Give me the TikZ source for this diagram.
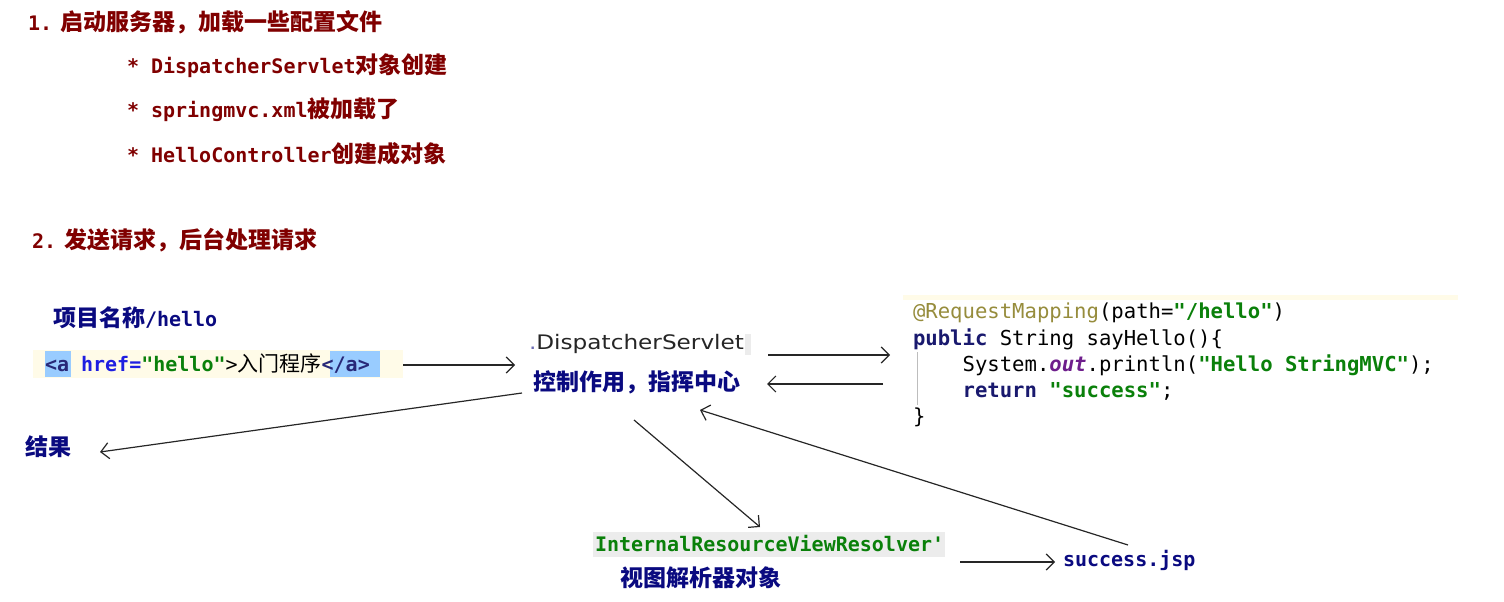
\documentclass[tikz,border=0pt]{standalone}
\usepackage{fontspec}
\usepackage{graphicx}
\usetikzlibrary{arrows.meta}
\newfontfamily\cjkfont{Noto Sans CJK SC}
\newfontfamily\pixfont{DejaVu Sans Mono}
\newfontfamily\uifont{DejaVu Sans}
\definecolor{hred}{RGB}{128,0,0}
\definecolor{hnavy}{RGB}{10,10,128}
\definecolor{tagc}{RGB}{40,40,120}
\definecolor{attrc}{RGB}{30,30,225}
\definecolor{strc}{RGB}{10,128,10}
\definecolor{hlblue}{RGB}{153,204,255}
\definecolor{hlyel}{RGB}{255,251,232}
\definecolor{annc}{RGB}{150,140,60}
\definecolor{kwc}{RGB}{25,25,110}
\definecolor{outc}{RGB}{110,30,140}
\definecolor{gbg}{RGB}{236,236,236}
\newcommand\Cj[1]{{\fontsize{23}{27}\selectfont\cjkfont\bfseries #1}}
\newcommand\Px[1]{{\fontsize{20}{27}\selectfont\pixfont\bfseries #1}}
\newcommand\Cd[1]{{\fontsize{20.6}{26}\selectfont\pixfont #1}}
\begin{document}
\begin{tikzpicture}[x=1pt,y=-1pt,
  lbl/.style={anchor=west,inner sep=0pt,outer sep=0pt},
  arr/.style={draw=black!85,line width=1.2pt,-{Straight Barb[length=8pt,width=16pt,line width=1.2pt]}}]
\useasboundingbox (0,0) rectangle (1504,602);
% headings
\node[lbl,text=hred] (h1) at (28,22) {\Px{1.}\hspace{8pt}\Cj{启动服务器，加载一些配置文件}};
\node[lbl,text=hred] (b1) at (127,66) {\Px{* DispatcherServlet}\Cj{对象创建}};
\node[lbl,text=hred] (b2) at (127,110) {\Px{* springmvc.xml}\Cj{被加载了}};
\node[lbl,text=hred] (b3) at (127,154) {\Px{* HelloController}\Cj{创建成对象}};
\node[lbl,text=hred] (h2) at (32,240) {\Px{2.}\hspace{8pt}\Cj{发送请求，后台处理请求}};
% left
\node[lbl,text=hnavy] (proj) at (53,318) {\Cj{项目名称}\Px{/hello}};
\fill[hlyel] (33,350) rectangle (403,378);
\fill[hlblue] (45,351) rectangle (71,377);
\fill[hlblue] (330,351) rectangle (380,377);
\node[lbl] (link) at (45,364) {\Px{\textcolor{tagc}{<a} \textcolor{attrc}{href=}\textcolor{strc}{"hello"}\textcolor{black}{\mdseries>}}{\fontsize{21}{26}\selectfont\cjkfont 入门程序}\Px{\textcolor{tagc}{</a>}}};
\coordinate (linkR) at (403,365);
\node[lbl,text=hnavy] (res) at (25,447) {\Cj{结果}};
% dispatcher
\fill[gbg] (745,334) rectangle (751,355);
\node[lbl,text=black!85] (ds) at (529,344) {\resizebox{215pt}{\height}{\fontsize{20}{24}\selectfont\uifont\textcolor{hnavy!60}{.}DispatcherServlet}};
\node[lbl,text=hnavy] (ctrl) at (533,382) {\Cj{控制作用，指挥中心}};
% code block
\fill[hlyel] (903,295) rectangle (1458,300);
\draw[gbg!80!black,line width=0.8pt] (917,352) -- (917,405);
\node[lbl] (c1) at (913,313) {\Cd{\textcolor{annc}{@RequestMapping}(path=\textcolor{strc}{\bfseries"/hello"})}};
\node[lbl] (c2) at (913,339) {\Cd{\textcolor{kwc}{\bfseries public} String sayHello()\{}};
\node[lbl] (c3) at (913,365) {\Cd{\hspace*{49.6pt}System.\textcolor{outc}{\bfseries\itshape out}.println(\textcolor{strc}{\bfseries"Hello StringMVC"});}};
\node[lbl] (c4) at (913,391) {\Cd{\hspace*{49.6pt}\textcolor{kwc}{\bfseries return} \textcolor{strc}{\bfseries"success"};}};
\node[lbl] (c5) at (913,417) {\Cd{\}}};
% view resolver
\fill[gbg] (593,532) rectangle (945,557);
\node[lbl,text=strc] (irvr) at (595,544) {\Px{InternalResourceViewResolver'}};
\node[lbl,text=hnavy] (view) at (620,578) {\Cj{视图解析器对象}};
\node[lbl,text=hnavy] (succ) at (1063,560) {\Px{success.jsp}};
% arrow endpoints
\coordinate (dsL) at (515,365);
\coordinate (dsR) at (768,355);
\coordinate (codeL) at (890,355);
\coordinate (codeL2) at (883,384);
\coordinate (ctrlR) at (767,384);
\coordinate (ctrlL) at (522,393);
\coordinate (resR) at (100,452);
\coordinate (ctrlB) at (634,420);
\coordinate (irvrT) at (760,527);
\coordinate (irvrR) at (960,562);
\coordinate (succL) at (1055,562);
\coordinate (succT) at (1128,545);
\coordinate (ctrlB2) at (700,410);
\draw[arr] (linkR) -- (dsL);
\draw[arr] (dsR) -- (codeL);
\draw[arr] (codeL2) -- (ctrlR);
\draw[arr] (ctrlL) -- (resR);
\draw[arr] (ctrlB) -- (irvrT);
\draw[arr] (irvrR) -- (succL);
\draw[arr] (succT) -- (ctrlB2);
\end{tikzpicture}
\end{document}
